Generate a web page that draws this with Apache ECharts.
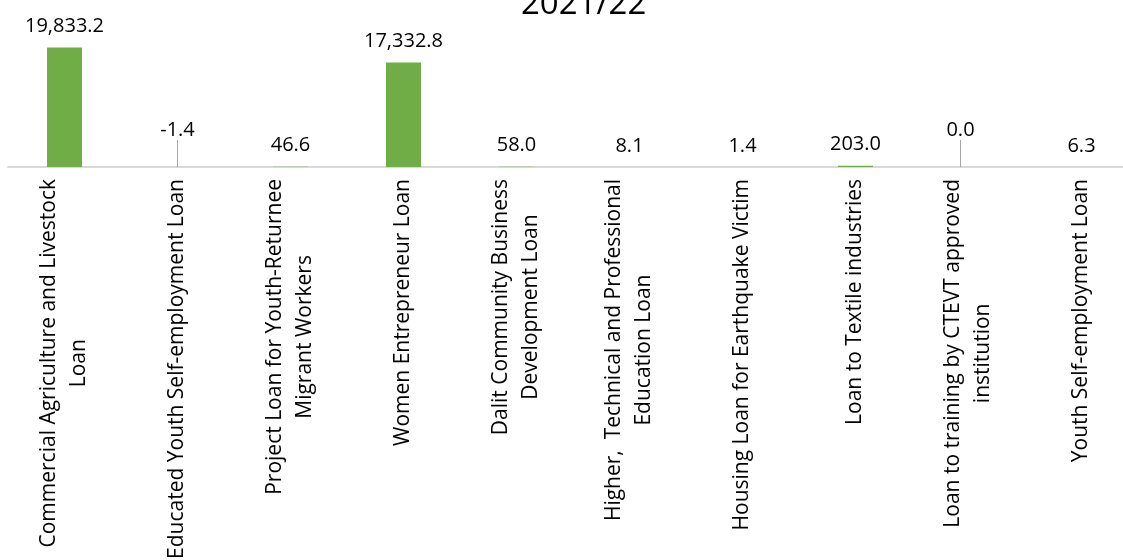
<!DOCTYPE html>
<html>
<head>
<meta charset="utf-8">
<script src="https://cdn.jsdelivr.net/npm/echarts@6/dist/echarts.min.js"></script>
<style>
  html, body { margin: 0; padding: 0; background: #fff; }
  #chart { width: 1123px; height: 560px; }
</style>
</head>
<body>
<div id="chart"></div>
<script>
const title = '2021/22'

const categories = [
  'Commercial Agriculture and Livestock\nLoan',
  'Educated Youth Self-employment Loan',
  'Project Loan for Youth-Returnee\nMigrant Workers',
  'Women Entrepreneur Loan',
  'Dalit Community Business\nDevelopment Loan',
  'Higher,  Technical and Professional\nEducation Loan',
  'Housing Loan for Earthquake Victim',
  'Loan to Textile industries',
  'Loan to training by CTEVT approved\ninstitution',
  'Youth Self-employment Loan',
]

const values = [19833.2, -1.4, 46.6, 17332.8, 58.0, 8.1, 1.4, 203.0, 0.0, 6.3]

// labels that Excel pushed up with a leader line
const movedLabels = { 1: { dx: 0, dy: -16 }, 8: { dx: -8, dy: -16 } }

const fmt = v => v.toLocaleString('en-US', { minimumFractionDigits: 1, maximumFractionDigits: 1 })

const font = '"Open Sans", "Noto Sans", sans-serif'

const chart = echarts.init(document.getElementById('chart'))

chart.setOption({
  animation: false,
  title: {
    text: title,
    left: 516,
    top: -17,
    textStyle: { fontFamily: font, fontSize: 33, fontWeight: 'normal', color: '#000' },
  },
  grid: { left: 8, width: 1130, top: 46.5, bottom: 393, containLabel: false, outerBoundsMode: 'none' },
  xAxis: {
    type: 'category',
    data: categories,
    axisTick: { show: false },
    axisLine: { lineStyle: { color: '#d9d9d9', width: 2 } },
    axisLabel: {
      interval: 0,
      rotate: 90,
      margin: 12,
      color: '#000',
      fontFamily: font,
      fontSize: 21,
      lineHeight: 30,
      formatter: v => v.split('\n').map(s => '{c|' + s + '}').join('\n'),
      rich: { c: { align: 'center', fontFamily: font, fontSize: 21, lineHeight: 30, color: '#000' } },
    },
  },
  yAxis: {
    type: 'value',
    min: 0,
    max: 20000,
    show: false,
    splitLine: { show: false },
  },
  series: [{
    type: 'bar',
    barWidth: 35,
    itemStyle: { color: '#70AD47' },
    data: values.map((v, i) => movedLabels[i]
      ? { value: v, labelLine: { show: true, lineStyle: { color: '#a6a6a6', width: 1 } } }
      : v),
    label: {
      show: true,
      position: 'top',
      distance: 11,
      color: '#000',
      fontFamily: font,
      fontSize: 20,
      formatter: p => fmt(p.value),
    },
    labelLayout: p => {
      const m = movedLabels[p.dataIndex]
      if (!m) return {}
      const lr = p.labelRect
      const r = p.rect
      return {
        dx: m.dx,
        dy: m.dy,
        labelLinePoints: [
          [lr.x + lr.width / 2 + m.dx, lr.y + lr.height + m.dy - 2],
          [r.x + r.width / 2, r.y],
        ],
      }
    },
  }],
})
</script>
</body>
</html>
